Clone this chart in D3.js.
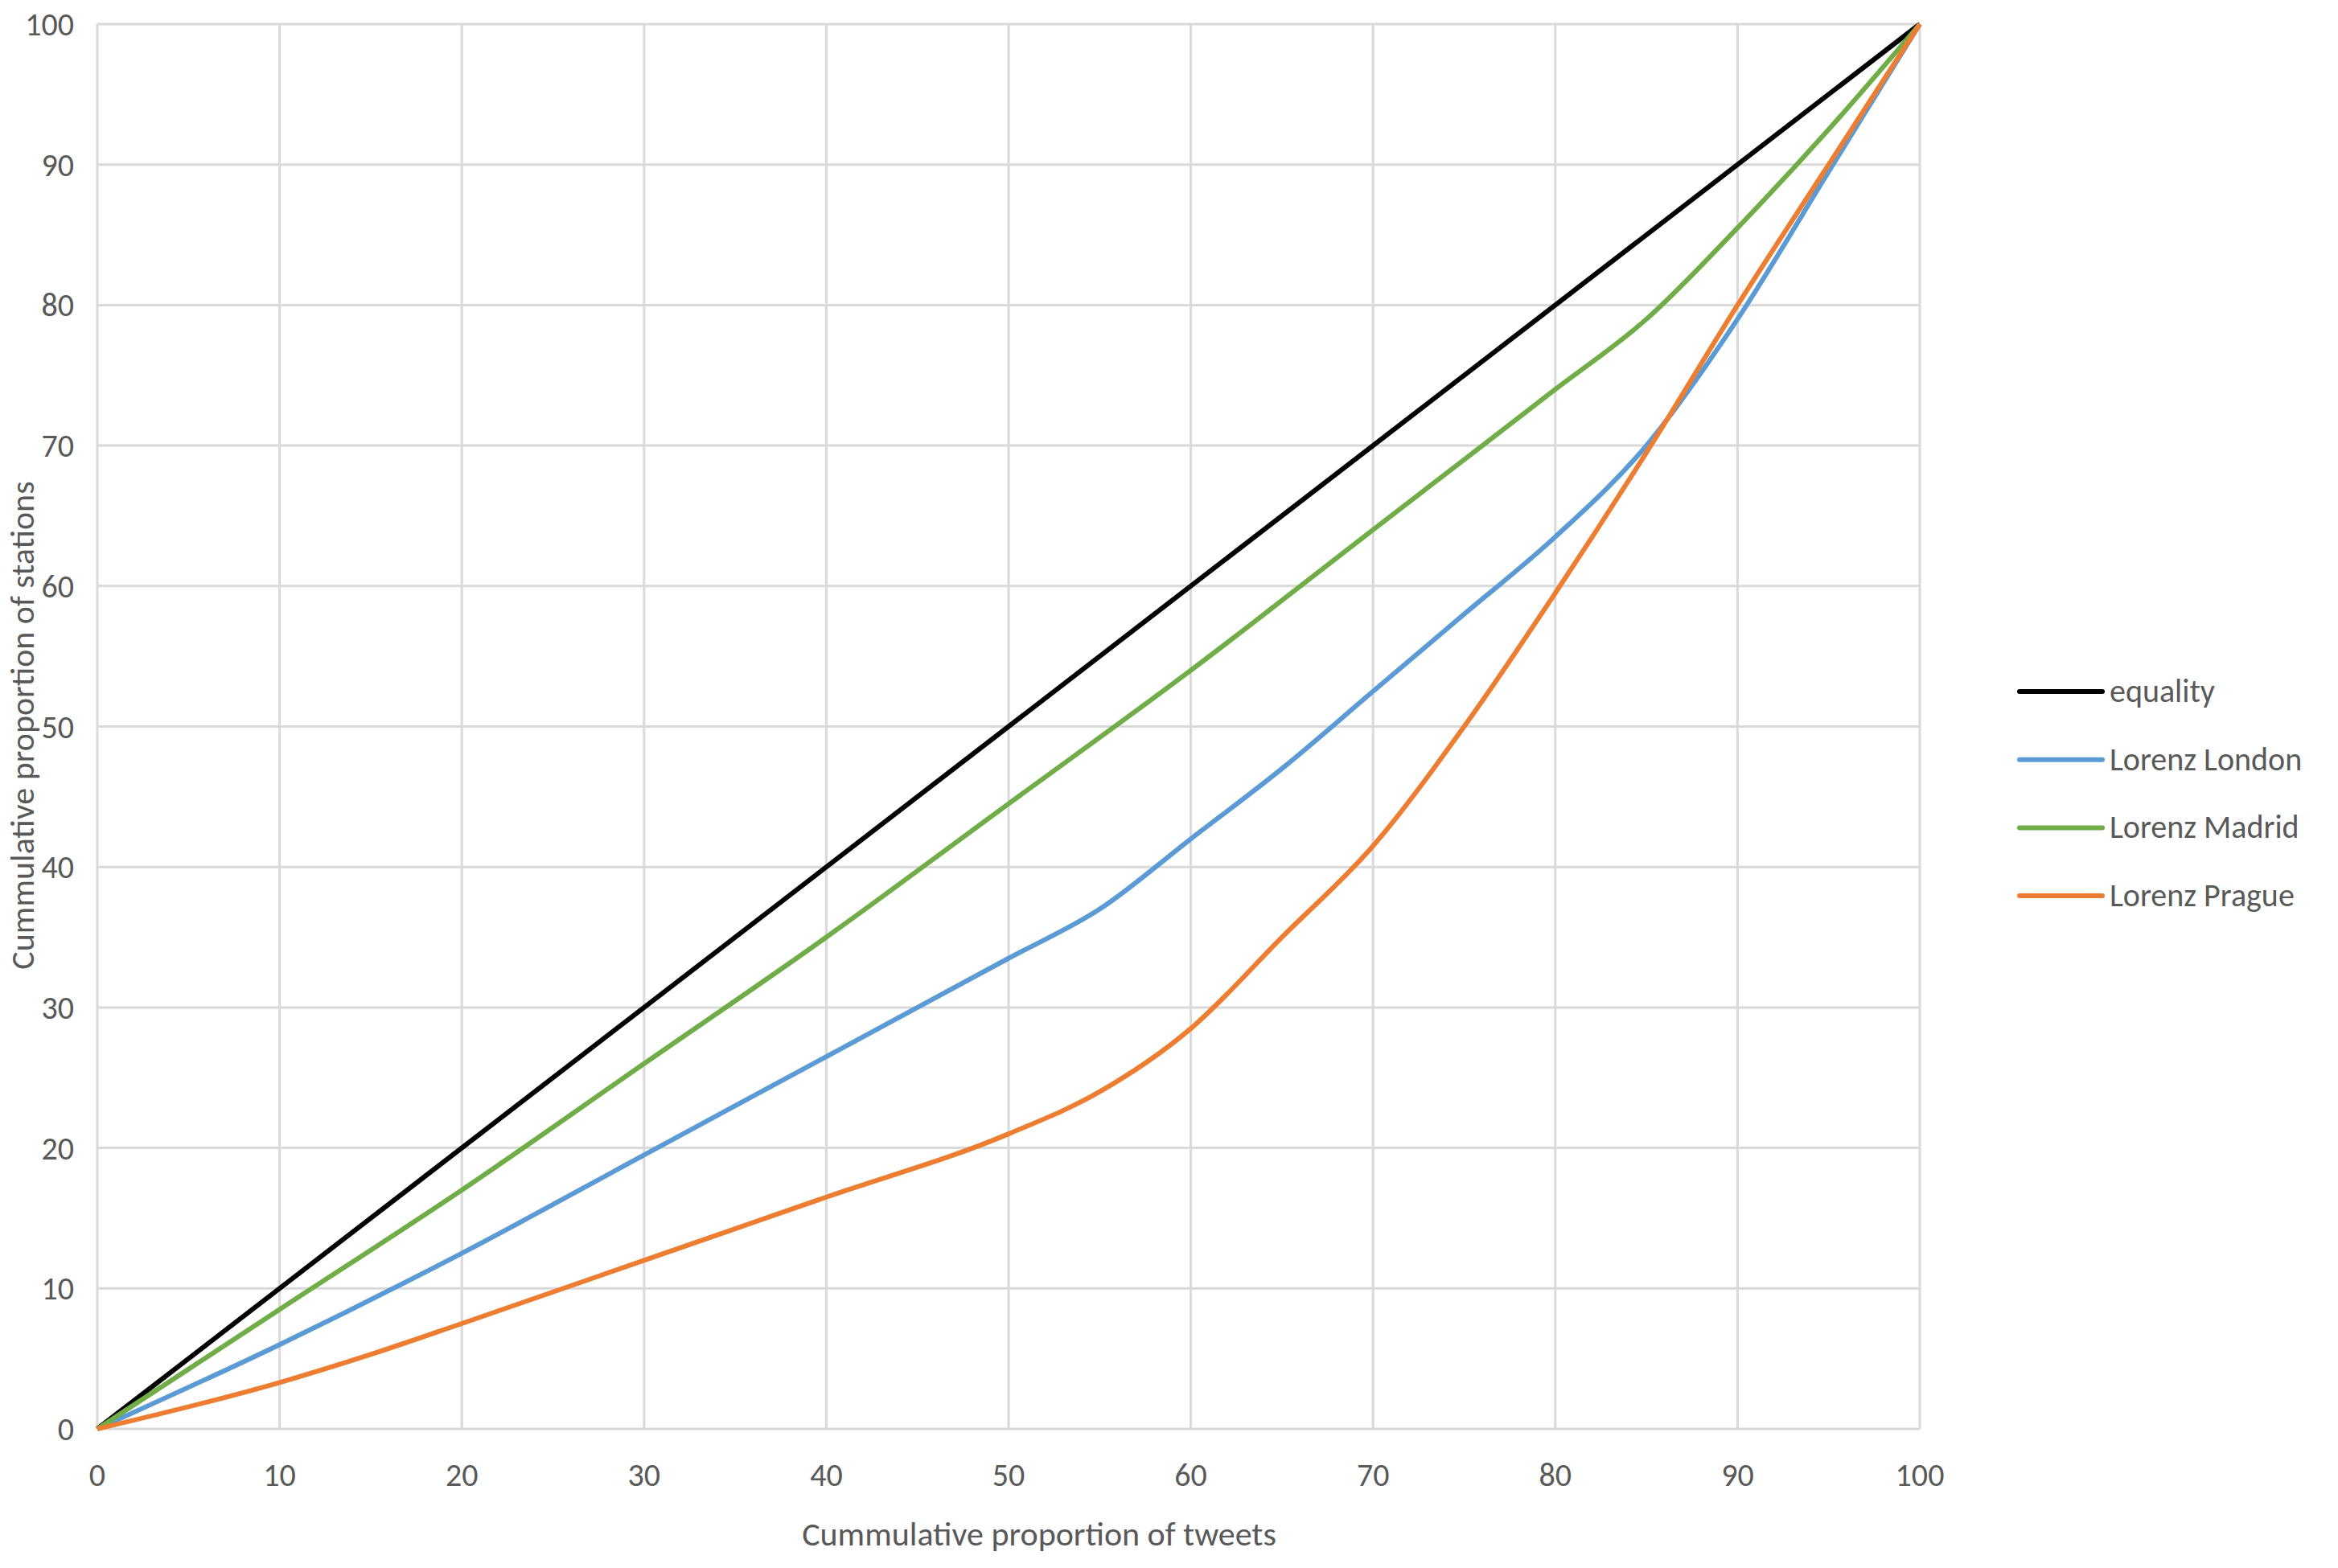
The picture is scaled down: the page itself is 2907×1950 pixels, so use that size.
<!DOCTYPE html>
<html><head><meta charset="utf-8">
<script src="https://cdn.jsdelivr.net/npm/d3@7"></script>
<style>body{margin:0;background:#fff}text{font-family:Carlito,"Open Sans",sans-serif;fill:#595959}</style>
</head><body><svg id="c" width="2907" height="1950"></svg>
<script>
const ticks = [0,10,20,30,40,50,60,70,80,90,100];
const seriesNames = ["equality","Lorenz London","Lorenz Madrid","Lorenz Prague"];
const seriesColors = ["#000000","#5B9BD5","#70AD47","#ED7D31"];
const equality = [[0,0],[100,100]];
const london = [[0,0],[10,6],[20,12.5],[30,19.5],[40,26.5],[50,33.5],[55,37],[60,42],[65,47],[70,52.5],[75,58],[80,63.5],[85,70],[90,79],[95,89.5],[100,100]];
const madrid = [[0,0],[10,8.5],[20,17],[30,26],[40,35],[50,44.5],[60,54],[70,64],[80,74],[85,79],[90,85.5],[95,92.5],[100,100]];
const prague = [[0,0],[10,3.3],[15,5.3],[20,7.5],[30,12],[40,16.5],[50,21],[55,24],[60,28.5],[65,35],[70,41.5],[75,50],[80,59.5],[85,69.5],[90,80],[95,90],[100,100]];
const data = [equality, london, madrid, prague];

const svg = d3.select("#c");
const L=121,R=2387,T=30,B=1777;
const x=d3.scaleLinear().domain([0,100]).range([L,R]);
const y=d3.scaleLinear().domain([0,100]).range([B,T]);
const g=svg.append("g");
ticks.forEach(t=>{
  g.append("line").attr("x1",x(t)).attr("x2",x(t)).attr("y1",T).attr("y2",B).attr("stroke","#d9d9d9").attr("stroke-width",3);
  g.append("line").attr("x1",L).attr("x2",R).attr("y1",y(t)).attr("y2",y(t)).attr("stroke","#d9d9d9").attr("stroke-width",3);
  g.append("text").attr("x",x(t)).attr("y",1848).attr("text-anchor","middle").attr("font-size",40).text(t);
  g.append("text").attr("x",92).attr("y",y(t)+14).attr("text-anchor","end").attr("font-size",40).text(t);
});
const line=d3.line().x(d=>x(d[0])).y(d=>y(d[1])).curve(d3.curveMonotoneX);
data.forEach((d,i)=>{
  svg.append("path").datum(d).attr("d",line).attr("fill","none").attr("stroke",seriesColors[i]).attr("stroke-width",6).attr("stroke-linejoin","round");
});
seriesNames.forEach((n,i)=>{
  const yy=860+i*84.7;
  svg.append("line").attr("x1",2511).attr("x2",2614).attr("y1",yy).attr("y2",yy).attr("stroke",seriesColors[i]).attr("stroke-width",6).attr("stroke-linecap","round");
  svg.append("text").attr("x",2623).attr("y",yy+13).attr("font-size",40).text(n);
});
svg.append("text").attr("x",1292).attr("y",1922).attr("text-anchor","middle").attr("font-size",42).text("Cummulative proportion of tweets");
svg.append("text").attr("transform","translate(42,902) rotate(-90)").attr("text-anchor","middle").attr("font-size",42).text("Cummulative proportion of stations");
</script></body></html>
